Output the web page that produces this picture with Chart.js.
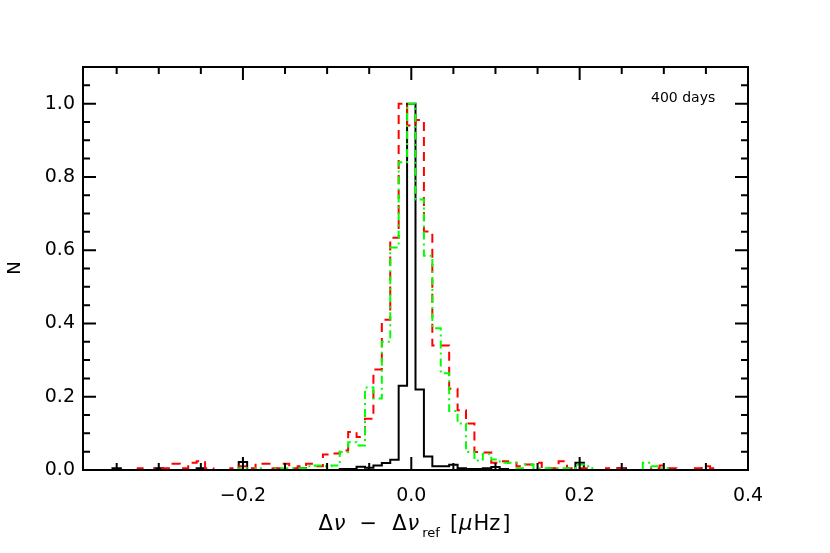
<!DOCTYPE html>
<html>
<head>
<meta charset="utf-8">
<script src="https://cdn.jsdelivr.net/npm/chart.js@4"></script>
<style>
  html, body { margin: 0; padding: 0; background: #fff; }
  #wrap { width: 830px; height: 553px; }
</style>
</head>
<body>
<div id="wrap"><canvas id="hist" width="830" height="553"></canvas></div>
<script>
// bin centres (width 0.01)
const binCenters = [
  -0.38, -0.37, -0.36, -0.35, -0.34, -0.33, -0.32, -0.31, -0.30, -0.29,
  -0.28, -0.27, -0.26, -0.25, -0.24, -0.23, -0.22, -0.21, -0.20, -0.19,
  -0.18, -0.17, -0.16, -0.15, -0.14, -0.13, -0.12, -0.11, -0.10, -0.09,
  -0.08, -0.07, -0.06, -0.05, -0.04, -0.03, -0.02, -0.01, 0.00, 0.01,
  0.02, 0.03, 0.04, 0.05, 0.06, 0.07, 0.08, 0.09, 0.10, 0.11,
  0.12, 0.13, 0.14, 0.15, 0.16, 0.17, 0.18, 0.19, 0.20, 0.21,
  0.22, 0.23, 0.24, 0.25, 0.26, 0.27, 0.28, 0.29, 0.30, 0.31,
  0.32, 0.33, 0.34, 0.35, 0.36, 0.37, 0.38, 0.39
];

const redCounts = [
  0, 0, 0, 0, 0, 0, 0.005, 0, 0.005, 0.005,
  0.017, 0.005, 0.02, 0.024, 0.005, 0, 0, 0.005, 0.01, 0.005,
  0.017, 0.017, 0.005, 0.017, 0.005, 0.01, 0.017, 0.01, 0.042, 0.045,
  0.053, 0.104, 0.09, 0.14, 0.274, 0.41, 0.634, 1.0, 0.94, 0.955,
  0.651, 0.34, 0.34, 0.222, 0.163, 0.127, 0.049, 0.048, 0.02, 0.024,
  0.02, 0.01, 0.015, 0.02, 0.005, 0.005, 0.024, 0.005, 0.005, 0.005,
  0, 0.005, 0, 0.005, 0, 0, 0, 0.005, 0.012, 0.005,
  0, 0, 0.005, 0.01, 0.005, 0, 0, 0
];

const greenCounts = [
  0, 0, 0, 0, 0, 0, 0, 0, 0, 0,
  0, 0, 0, 0, 0, 0, 0, 0, 0.005, 0,
  0.005, 0, 0.005, 0.005, 0.005, 0.005, 0.01, 0.012, 0.01, 0.012,
  0.049, 0.076, 0.067, 0.225, 0.195, 0.35, 0.607, 0.84, 1.0, 0.738,
  0.585, 0.387, 0.264, 0.161, 0.127, 0.049, 0.026, 0.044, 0.029, 0.02,
  0.02, 0.005, 0.015, 0.005, 0.005, 0.005, 0.005, 0.005, 0.015, 0.01,
  0, 0, 0, 0, 0, 0, 0.02, 0.01, 0.005, 0,
  0, 0, 0, 0, 0, 0, 0, 0
];

const blackCounts = [
  0, 0, 0, 0.005, 0, 0, 0, 0, 0.005, 0,
  0, 0, 0, 0.005, 0, 0, 0, 0, 0.022, 0,
  0, 0, 0, 0, 0, 0.005, 0, 0, 0, 0,
  0.003, 0.003, 0.009, 0.006, 0.012, 0.019, 0.028, 0.23, 1.0, 0.22,
  0.037, 0.01, 0.01, 0.014, 0.005, 0.003, 0.003, 0.005, 0.008, 0.003,
  0, 0, 0, 0, 0, 0, 0, 0, 0.02, 0,
  0, 0, 0, 0.005, 0, 0, 0, 0, 0, 0,
  0, 0, 0, 0, 0, 0, 0, 0
];

const xMajorTicks = [-0.2, 0.0, 0.2, 0.4];
const xMinorTicks = [-0.35, -0.3, -0.25, -0.15, -0.1, -0.05, 0.05, 0.1, 0.15, 0.25, 0.3, 0.35];
const yMajorTicks = [0.0, 0.2, 0.4, 0.6, 0.8, 1.0];
const yMinorTicks = [0.05, 0.1, 0.15, 0.25, 0.3, 0.35, 0.45, 0.5, 0.55, 0.65, 0.7, 0.75, 0.85, 0.9, 0.95, 1.05];

const FONT = '"DejaVu Sans", Verdana, sans-serif';

function toPoints(vals) {
  return binCenters.map((c, i) => ({ x: c, y: vals[i] }));
}

function fmt(v) {
  const s = Math.abs(v).toFixed(1);
  return v < -1e-9 ? '\u2212' + s : s;
}

const frame = {
  id: 'frame',
  afterDatasetsDraw(chart) {
    const { ctx, chartArea: a, scales: { x, y } } = chart;
    ctx.save();
    ctx.strokeStyle = '#000';
    ctx.lineWidth = 2;
    ctx.strokeRect(a.left, a.top, a.right - a.left, a.bottom - a.top);
    ctx.beginPath();
    const xt = (vals, len) => vals.forEach(v => {
      const px = x.getPixelForValue(v);
      ctx.moveTo(px, a.bottom); ctx.lineTo(px, a.bottom - len);
      ctx.moveTo(px, a.top); ctx.lineTo(px, a.top + len);
    });
    const yt = (vals, len) => vals.forEach(v => {
      const py = y.getPixelForValue(v);
      ctx.moveTo(a.left, py); ctx.lineTo(a.left + len, py);
      ctx.moveTo(a.right, py); ctx.lineTo(a.right - len, py);
    });
    xt(xMajorTicks, 13); xt(xMinorTicks, 7);
    yt(yMajorTicks, 13); yt(yMinorTicks, 7);
    ctx.stroke();

    ctx.fillStyle = '#000';
    // annotation
    ctx.font = '14px ' + FONT;
    ctx.textAlign = 'left';
    ctx.textBaseline = 'middle';
    ctx.fillText('400 days', 651, 98);

    // y title
    ctx.save();
    ctx.translate(15, 268);
    ctx.rotate(-Math.PI / 2);
    ctx.font = '18px ' + FONT;
    ctx.textAlign = 'center';
    ctx.textBaseline = 'middle';
    ctx.fillText('N', 0, 0);
    ctx.restore();

    // x title with subscript: [text, font, baseline shift, gap after]
    const main = '21px ' + FONT, ital = 'italic 21px ' + FONT, sub = '13px ' + FONT;
    const parts = [
      ['\u0394', main, 0, 1], ['\u03bd', ital, 0, 14], ['\u2212', main, 0, 15],
      ['\u0394', main, 0, 1], ['\u03bd', ital, 0, 3], ['ref', sub, 7, 10],
      ['[', main, 0, 1], ['\u03bc', ital, 0, 1], ['Hz', main, 0, 2], [']', main, 0, 0]
    ];
    let w = 0;
    parts.forEach(p => { ctx.font = p[1]; w += ctx.measureText(p[0]).width + p[3]; });
    let cx = (a.left + a.right) / 2 - 1 - w / 2;
    ctx.textAlign = 'left';
    ctx.textBaseline = 'alphabetic';
    parts.forEach(p => {
      ctx.font = p[1];
      ctx.fillText(p[0], cx, 530 + p[2]);
      cx += ctx.measureText(p[0]).width + p[3];
    });
    ctx.restore();
  }
};

new Chart(document.getElementById('hist').getContext('2d'), {
  type: 'line',
  data: {
    datasets: [
      {
        data: toPoints(greenCounts),
        borderColor: '#00ff00',
        borderWidth: 2,
        borderDash: [8, 4, 2, 4],
        stepped: 'middle',
        pointRadius: 0,
        fill: false
      },
      {
        data: toPoints(redCounts),
        borderColor: '#ff0000',
        borderWidth: 2,
        borderDash: [9, 6],
        stepped: 'middle',
        pointRadius: 0,
        fill: false
      },
      {
        data: toPoints(blackCounts),
        borderColor: '#000000',
        borderWidth: 2,
        stepped: 'middle',
        pointRadius: 0,
        fill: false
      }
    ]
  },
  options: {
    responsive: false,
    animation: false,
    devicePixelRatio: 1,
    layout: { padding: { top: 67, right: 82, left: 0, bottom: 0 } },
    plugins: {
      legend: { display: false },
      tooltip: { enabled: false }
    },
    scales: {
      x: {
        type: 'linear',
        min: -0.39,
        max: 0.4,
        grid: { display: false, drawTicks: false },
        border: { display: false },
        afterBuildTicks: s => { s.ticks = xMajorTicks.map(v => ({ value: v })); },
        afterFit: s => { s.height = 83; },
        ticks: {
          padding: 15,
          maxRotation: 0,
          autoSkip: false,
          color: '#000',
          font: { family: FONT, size: 19 },
          callback: v => fmt(v)
        }
      },
      y: {
        min: 0,
        max: 1.1,
        grid: { display: false, drawTicks: false },
        border: { display: false },
        afterBuildTicks: s => { s.ticks = yMajorTicks.map(v => ({ value: v })); },
        afterFit: s => { s.width = 83; },
        ticks: {
          padding: 8,
          color: '#000',
          font: { family: FONT, size: 19 },
          callback: v => fmt(v)
        }
      }
    }
  },
  plugins: [frame]
});
</script>
</body>
</html>
